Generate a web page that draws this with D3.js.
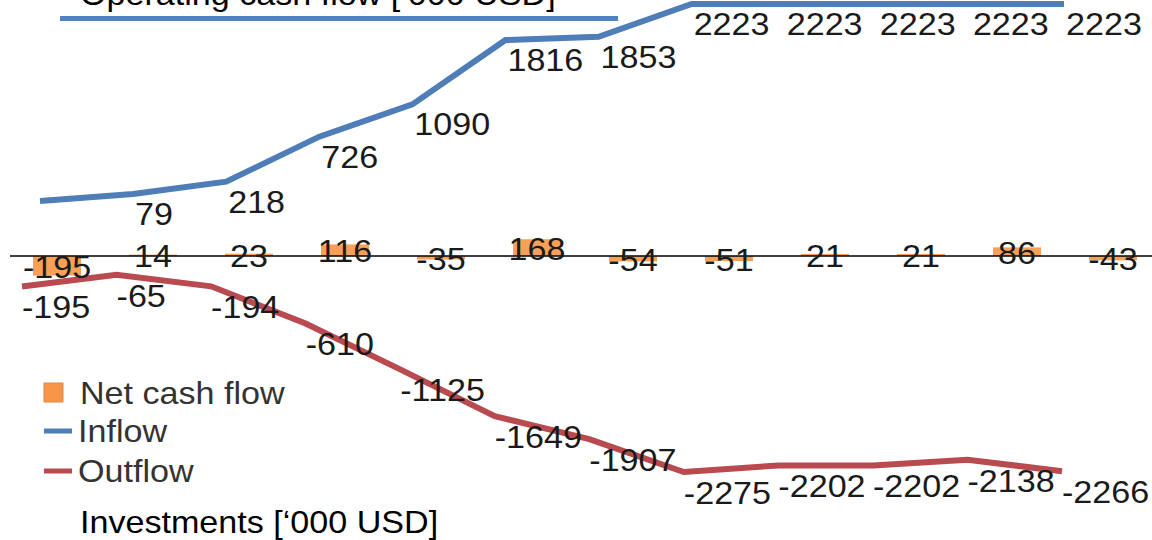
<!DOCTYPE html>
<html>
<head>
<meta charset="utf-8">
<script src="https://cdn.jsdelivr.net/npm/d3@7"></script>
<style>
  html, body { margin: 0; padding: 0; background: #fff; }
  svg { display: block; font-family: "Liberation Sans", Arial, sans-serif; }
</style>
</head>
<body>
<svg id="chart"></svg>
<script>
// periods (no axis labels are shown on the chart)
const periods = ["1", "2", "3", "4", "5", "6", "7", "8", "9", "10", "11", "12"]
// series values, '000 USD
const netFlow = [-195, 14, 23, 116, -35, 168, -54, -51, 21, 21, 86, -43]
const inflow = [0, 79, 218, 726, 1090, 1816, 1853, 2223, 2223, 2223, 2223, 2223]
const outflow = [-195, -65, -194, -610, -1125, -1649, -1907, -2275, -2202, -2202, -2138, -2266]
// texts
const topTitle = "Operating cash flow [\u2018000 USD]"
const bottomTitle = "Investments [\u2018000 USD]"
const legendNames = ["Net cash flow", "Inflow", "Outflow"]

const width = 1152
const height = 540
const fontSize = 31
const stretch = 1.1
const colors = { net: "#F79646", inflow: "#4F7DB8", outflow: "#B84A50", text: "#1a1a1a" }

const svg = d3.select("#chart").attr("width", width).attr("height", height)

// text is slightly wider than the font, so stretch it horizontally
const addText = (sel, x, y, str, anchor = "start", fill = colors.text) =>
  sel
    .append("text")
    .attr("transform", `translate(${x}, ${y}) scale(${stretch}, 1)`)
    .attr("text-anchor", anchor)
    .attr("font-size", fontSize)
    .attr("fill", fill)
    .text(str)

// each series sits on its own frame in the picture, so each gets its own scales
const xNet = d3.scaleBand().domain(periods).range([9, 1161]).paddingInner(0.5).paddingOuter(0.25)
const yNet = d3.scaleLinear().domain([-200, 200]).range([276, 236])

const xIn = d3.scalePoint().domain(periods).range([40, 1064])
const yIn = d3.scaleLinear().domain([0, 2223]).range([201, 4])

const xOut = d3.scalePoint().domain(periods).range([22, 1062])
const yOut = d3.scaleLinear().domain([0, -2275]).range([269, 472])

// net cash flow bars
svg
  .append("g")
  .selectAll("rect")
  .data(netFlow)
  .join("rect")
  .attr("x", (d, i) => xNet(periods[i]))
  .attr("y", (d) => Math.min(yNet(d), yNet(0)))
  .attr("width", xNet.bandwidth())
  .attr("height", (d) => Math.abs(yNet(d) - yNet(0)))
  .attr("fill", colors.net)
  .attr("opacity", 0.9)

// zero line
svg
  .append("line")
  .attr("x1", 10)
  .attr("x2", width)
  .attr("y1", yNet(0))
  .attr("y2", yNet(0))
  .attr("stroke", "#000")
  .attr("stroke-width", 1.5)

// inflow & outflow lines
const inLine = d3.line().x((d, i) => xIn(periods[i])).y((d) => yIn(d))
const outLine = d3.line().x((d, i) => xOut(periods[i])).y((d) => yOut(d))

svg
  .append("path")
  .datum(inflow)
  .attr("d", inLine)
  .attr("fill", "none")
  .attr("stroke", colors.inflow)
  .attr("stroke-width", 6)

svg
  .append("path")
  .datum(outflow)
  .attr("d", outLine)
  .attr("fill", "none")
  .attr("stroke", colors.outflow)
  .attr("stroke-width", 6)

// data labels
const labels = svg.append("g")
inflow.forEach((d, i) => {
  if (d !== 0) addText(labels, xIn(periods[i]) + 2, yIn(d) + 31, d)
})
outflow.forEach((d, i) => {
  addText(labels, xOut(periods[i]), yOut(d) + 32, d)
})
netFlow.forEach((d, i) => {
  const yMid = (yNet(d) + yNet(0)) / 2
  addText(labels, xNet(periods[i]) + xNet.bandwidth() / 2, yMid + 12, d, "middle")
})

// top title with its blue rule
addText(svg, 80, 5, topTitle, "start", "#000")
svg
  .append("line")
  .attr("x1", 60)
  .attr("x2", 618)
  .attr("y1", 18.5)
  .attr("y2", 18.5)
  .attr("stroke", "#5182C0")
  .attr("stroke-width", 5)

// legend
const legend = svg.append("g")
legend
  .append("rect")
  .attr("x", 44)
  .attr("y", 383)
  .attr("width", 19)
  .attr("height", 19)
  .attr("fill", colors.net)
  .attr("stroke", "#d98a4a")
  .attr("stroke-width", 1)
addText(legend, 80, 404, legendNames[0], "start", "#333")
;[
  { y: 431, color: colors.inflow, name: legendNames[1], base: 442 },
  { y: 471, color: colors.outflow, name: legendNames[2], base: 482 },
].forEach((l) => {
  legend
    .append("line")
    .attr("x1", 44)
    .attr("x2", 72)
    .attr("y1", l.y)
    .attr("y2", l.y)
    .attr("stroke", l.color)
    .attr("stroke-width", 5)
  addText(legend, 78, l.base, l.name, "start", "#333")
})

// bottom title
addText(svg, 80, 533, bottomTitle, "start", "#000")
</script>
</body>
</html>
